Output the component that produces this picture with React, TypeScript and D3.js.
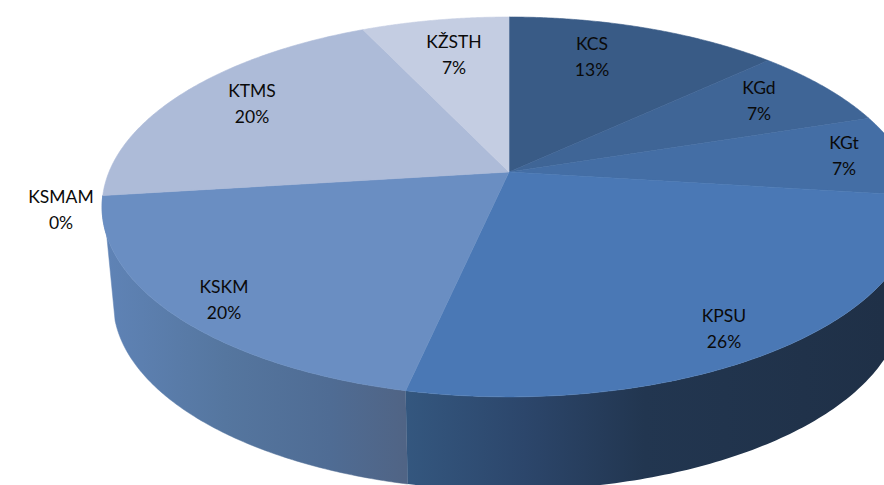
import React from "react";
import * as d3 from "d3";

const categories = ["KCS", "KGd", "KGt", "KPSU", "KSKM", "KSMAM", "KTMS", "KŽSTH"];
const values = [13, 7, 7, 26.4, 19.6, 0, 20, 7];
const sliceColors = ["#395b86", "#3f6596", "#446ea5", "#4a78b5", "#6a8ec2", "#8aa3cc", "#adbbd8", "#c4cde2"];
const labelAnchors: [number, number][] = [
  [592, 44], [759, 88], [844, 143], [724, 316], [224, 287], [61, 197], [252, 91], [454, 42],
];

const W = 884, H = 485;
const K = -0.184;
const SILHOUETTE_ANGLE = (254 * Math.PI) / 180;

// Perspective projection of the unit circle, expressed as angle -> pixel.
const projector = (cx: number, s: number, c: number, a: number) => (t: number, r = 1): [number, number] => {
  const u = r * Math.sin(t), v = -r * Math.cos(t);
  const den = 1 + K * v;
  return [cx + (s * u) / den, (c + a * v) / den];
};
const topRim = projector(509, 400, 172, 151.87);
const bottomRim = projector(508, 388, 268, 132);

const arcs = d3.pie<number>().sort(null)(values);
const line = d3.line();
const samples = (a: number, b: number, p: (t: number) => [number, number]) =>
  d3.range(0, 121).map((i) => p(a + ((b - a) * i) / 120));

const sidePath = (a: number, b: number) =>
  line([...samples(a, b, topRim), ...samples(Math.min(b, SILHOUETTE_ANGLE), a, bottomRim)]) + "Z";
const slicePath = (a: number, b: number) =>
  line([topRim(0, 0), ...samples(a, b, topRim)]) + "Z";

export default function App() {
  const kpsu = arcs[3];
  const kskm = arcs[4];
  return (
    <svg
      width={W}
      height={H}
      viewBox={`0 0 ${W} ${H}`}
      style={{ position: "absolute", left: 0, top: 0, display: "block", background: "#fff" }}
    >
      <defs>
        <linearGradient id="sideA" gradientUnits="userSpaceOnUse" x1={405} x2={884} y1={0} y2={0}>
          <stop offset="0" stopColor="#34577f" />
          <stop offset="0.25" stopColor="#2c466b" />
          <stop offset="0.5" stopColor="#223650" />
          <stop offset="1" stopColor="#1f3047" />
        </linearGradient>
        <linearGradient id="sideB" gradientUnits="userSpaceOnUse" x1={105} x2={405} y1={0} y2={0}>
          <stop offset="0" stopColor="#5f83b6" />
          <stop offset="0.4" stopColor="#55769f" />
          <stop offset="0.75" stopColor="#4f6c94" />
          <stop offset="1" stopColor="#506485" />
        </linearGradient>
      </defs>
      <path d={sidePath(kskm.startAngle, kskm.endAngle)} fill="url(#sideB)" stroke="url(#sideB)" strokeWidth={0.5} />
      <path d={sidePath(kpsu.startAngle, kpsu.endAngle)} fill="url(#sideA)" />
      {arcs.map((d, i) => (
        <path
          key={categories[i]}
          d={slicePath(d.startAngle, d.endAngle)}
          fill={sliceColors[i]}
          stroke={sliceColors[i]}
          strokeWidth={d.endAngle > d.startAngle ? 0.6 : 0}
        />
      ))}
      {categories.map((c, i) => (
        <text
          key={c}
          textAnchor="middle"
          fontFamily="Lato, 'Open Sans', sans-serif"
          fontSize={17.5}
          fill="#0a0a0a"
        >
          <tspan x={labelAnchors[i][0]} y={labelAnchors[i][1] + 6}>{c}</tspan>
          <tspan x={labelAnchors[i][0]} y={labelAnchors[i][1] + 32}>{`${Math.round(values[i])}%`}</tspan>
        </text>
      ))}
    </svg>
  );
}
